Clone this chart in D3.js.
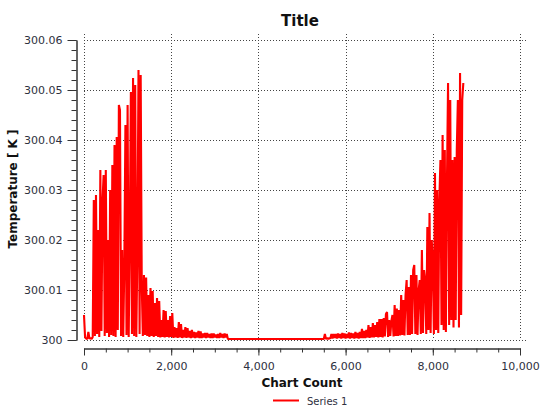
<!DOCTYPE html>
<html>
<head>
<meta charset="utf-8">
<script src="https://cdn.jsdelivr.net/npm/d3@7"></script>
<style>
    body { margin: 0; background: #fff; }
    svg { display: block; font-family: "DejaVu Sans", Verdana, sans-serif; }
</style>
</head>
<body>
<svg id="chart" width="542" height="409"></svg>
<script>
// one sample every 25 counts
const sampleStep = 25

const temps = [
    // 0 - 200
    300.005, 300.0005, 300.0003, 300.0002, 300.0016, 300.0003, 300.0004, 300.0002, 300.0006,
    // 225 - 1300, large spikes
    300.028, 300.0008, 300.029, 300.0012, 300.022, 300.0006, 300.034, 300.0018, 300.028, 300.033,
    300.0008, 300.034, 300.0014, 300.020, 300.0006, 300.030, 300.001, 300.035, 300.0008, 300.039,
    300.0006, 300.0406, 300.002, 300.047, 300.046, 300.0008, 300.018, 300.0006, 300.015, 300.043,
    300.001, 300.047, 300.0006, 300.020, 300.0496, 300.0012, 300.0524, 300.0008, 300.051, 300.0006,
    300.018, 300.054, 300.0012, 300.053,
    // 1325 - 3300, decay
    300.0106, 300.0008, 300.013, 300.001, 300.0125, 300.0008, 300.009, 300.0006, 300.0104, 300.0008,
    300.0098, 300.0006, 300.0074, 300.0008, 300.0084, 300.0006, 300.0078, 300.0005, 300.004, 300.0006,
    300.006, 300.0005, 300.0058, 300.0006, 300.004, 300.0005, 300.0048, 300.0006, 300.0054, 300.0004,
    300.0026, 300.0005, 300.0024, 300.0004, 300.0036, 300.0005, 300.0032, 300.0004, 300.002, 300.0005,
    300.0026, 300.0004, 300.0024, 300.0005, 300.0018, 300.0004, 300.002, 300.0005, 300.0016, 300.0004,
    300.0015, 300.0005, 300.0018, 300.0004, 300.0017, 300.0004, 300.0013, 300.0005, 300.0014, 300.0004,
    300.0014, 300.0005, 300.0012, 300.0004, 300.0013, 300.0004, 300.0013, 300.0005, 300.0011, 300.0004,
    300.0012, 300.0004, 300.0014, 300.0005, 300.0012, 300.0004, 300.0013, 300.0005, 300.0012, 300.0002,
    // 3325 - 5450, flat
    300.0002, 300.0002, 300.0002, 300.0002, 300.0002, 300.0002, 300.0002, 300.0002, 300.0002, 300.0002,
    300.0002, 300.0002, 300.0002, 300.0002, 300.0002, 300.0002, 300.0002, 300.0002, 300.0002, 300.0002,
    300.0002, 300.0002, 300.0002, 300.0002, 300.0002, 300.0002, 300.0002, 300.0002, 300.0002, 300.0002,
    300.0002, 300.0002, 300.0002, 300.0002, 300.0002, 300.0002, 300.0002, 300.0002, 300.0002, 300.0002,
    300.0002, 300.0002, 300.0002, 300.0002, 300.0002, 300.0002, 300.0002, 300.0002, 300.0002, 300.0002,
    300.0002, 300.0002, 300.0002, 300.0002, 300.0002, 300.0002, 300.0002, 300.0002, 300.0002, 300.0002,
    300.0002, 300.0002, 300.0002, 300.0002, 300.0002, 300.0002, 300.0002, 300.0002, 300.0002, 300.0002,
    300.0002, 300.0002, 300.0002, 300.0002, 300.0002, 300.0002, 300.0002, 300.0002, 300.0002, 300.0002,
    300.0002, 300.0002, 300.0002, 300.0002, 300.0002, 300.0002,
    // 5475 - 7550, growth
    300.0002, 300.0002, 300.0012, 300.0002, 300.0004, 300.0002, 300.0004, 300.0003, 300.0012, 300.0003,
    300.0012, 300.0004, 300.0012, 300.0003, 300.0013, 300.0004, 300.0012, 300.0003, 300.0014, 300.0004,
    300.0013, 300.0003, 300.0012, 300.0004, 300.0015, 300.0003, 300.0014, 300.0004, 300.0013, 300.0003,
    300.0016, 300.0004, 300.0014, 300.0003, 300.0016, 300.0004, 300.0022, 300.0004, 300.0018, 300.0004,
    300.002, 300.0005, 300.003, 300.0004, 300.0026, 300.0005, 300.0034, 300.0005, 300.003, 300.0006,
    300.0036, 300.0005, 300.0042, 300.0006, 300.0042, 300.0005, 300.0044, 300.0007, 300.0052, 300.0056,
    300.0006, 300.004, 300.0008, 300.0038, 300.005, 300.0007, 300.007, 300.0008, 300.0063, 300.0008,
    300.006, 300.0009, 300.009, 300.001, 300.008, 300.0009, 300.009, 300.012, 300.001, 300.0106,
    300.001, 300.013, 300.0012, 300.014,
    // 7575 - 8700, large spikes
    300.015, 300.0012, 300.013, 300.001, 300.010, 300.012, 300.0012, 300.018, 300.0014, 300.014,
    300.012, 300.0012, 300.0226, 300.002, 300.0254, 300.0014, 300.020, 300.016, 300.0012, 300.0334,
    300.002, 300.030, 300.0014, 300.028, 300.036, 300.003, 300.041, 300.002, 300.038, 300.0016,
    300.032, 300.0514, 300.003, 300.048, 300.004, 300.036, 300.0025, 300.0366, 300.004, 300.038,
    300.048, 300.0025, 300.0534, 300.005, 300.048, 300.0514
]

const xTicks = [0, 2000, 4000, 6000, 8000, 10000]
const yTicks = [300, 300.01, 300.02, 300.03, 300.04, 300.05, 300.06]

const seriesName = 'Series 1'
const chartTitle = 'Title'
const xLabel = 'Chart Count'
const yLabel = 'Temperature [ K ]'

const svg = d3.select('#chart')
const textColour = '#2e3040'

const x = d3.scaleLinear().domain([0, 10000]).range([84, 520])
const y = d3.scaleLinear().domain([300, 300.06]).range([340, 40])

// grid
const grid = svg.append('g')
    .attr('stroke', '#444')
    .attr('stroke-width', 1)
    .attr('stroke-dasharray', '1,2')

grid.selectAll('.vgrid')
    .data(xTicks)
    .join('line')
    .attr('x1', d => Math.round(x(d)) + 0.5)
    .attr('x2', d => Math.round(x(d)) + 0.5)
    .attr('y1', 34)
    .attr('y2', 340)

grid.selectAll('.hgrid')
    .data(yTicks)
    .join('line')
    .attr('x1', 84)
    .attr('x2', 528)
    .attr('y1', d => Math.round(y(d)) + 0.5)
    .attr('y2', d => Math.round(y(d)) + 0.5)

// series
const line = d3.line()
    .x((d, i) => x(i * sampleStep))
    .y(d => y(d))

svg.append('path')
    .datum(temps)
    .attr('d', line)
    .attr('fill', 'none')
    .attr('stroke', '#ff0000')
    .attr('stroke-width', 2.1)
    .attr('stroke-linejoin', 'bevel')

const styleAxis = g => {
    g.select('.domain').attr('stroke', '#333')
    g.selectAll('.tick line').attr('stroke', '#333')
    g.selectAll('text').attr('fill', textColour)
}

// y axis
svg.append('g')
    .attr('transform', 'translate(76.5, 0)')
    .call(d3.axisLeft(y).tickValues(y.ticks(30)).tickSize(5).tickSizeOuter(0).tickFormat(''))
    .call(styleAxis)

svg.append('g')
    .attr('transform', 'translate(76.5, 0)')
    .style('font-size', '11px')
    .style('font-family', '"DejaVu Sans", Verdana, sans-serif')
    .call(
        d3.axisLeft(y)
            .tickValues(yTicks)
            .tickSize(9)
            .tickSizeOuter(0)
            .tickPadding(5)
            .tickFormat(d => d === 300 ? '300' : d3.format('.2f')(d))
    )
    .call(styleAxis)

// x axis
svg.append('g')
    .attr('transform', 'translate(0, 348.5)')
    .call(d3.axisBottom(x).tickValues(x.ticks(20)).tickSize(4).tickSizeOuter(0).tickFormat(''))
    .call(styleAxis)

svg.append('g')
    .attr('transform', 'translate(0, 348.5)')
    .style('font-size', '11px')
    .style('font-family', '"DejaVu Sans", Verdana, sans-serif')
    .call(
        d3.axisBottom(x)
            .tickValues(xTicks)
            .tickSize(7)
            .tickSizeOuter(0)
            .tickPadding(7)
            .tickFormat(d3.format(','))
    )
    .call(styleAxis)

// titles
svg.append('text')
    .attr('x', 300)
    .attr('y', 26)
    .attr('text-anchor', 'middle')
    .attr('font-size', '15px')
    .attr('font-weight', 'bold')
    .attr('fill', '#111')
    .text(chartTitle)

svg.append('text')
    .attr('x', 302)
    .attr('y', 387)
    .attr('text-anchor', 'middle')
    .attr('font-size', '12px')
    .attr('font-weight', 'bold')
    .attr('fill', '#111')
    .text(xLabel)

svg.append('text')
    .attr('transform', 'translate(17, 189) rotate(-90)')
    .attr('text-anchor', 'middle')
    .attr('font-size', '12px')
    .attr('font-weight', 'bold')
    .attr('fill', '#111')
    .text(yLabel)

// legend
const legend = svg.append('g').attr('transform', 'translate(273, 400.5)')
legend.append('line')
    .attr('x1', 0)
    .attr('x2', 26)
    .attr('stroke', '#ff0000')
    .attr('stroke-width', 2)
legend.append('text')
    .attr('x', 34)
    .attr('y', 4)
    .attr('font-size', '10px')
    .attr('fill', textColour)
    .text(seriesName)
</script>
</body>
</html>
